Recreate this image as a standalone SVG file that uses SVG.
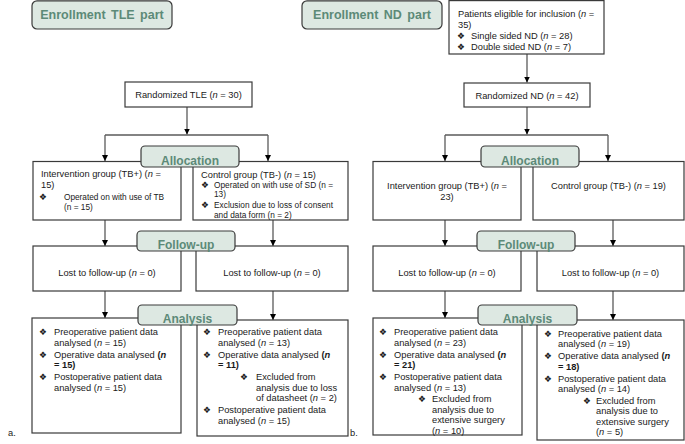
<svg xmlns="http://www.w3.org/2000/svg" width="685" height="444" viewBox="0 0 685 444">
<style>
.box{fill:#fff;stroke:#3a3a3a;stroke-width:1.2}
.lbl{fill:#dde8e2;stroke:#3a3a3a;stroke-width:1.2}
.lt{font-family:"Liberation Sans",Arial,sans-serif;font-weight:bold;fill:#5c8a78;text-anchor:middle}
.t{font-family:"Liberation Sans",Arial,sans-serif;font-size:9.3px;fill:#1a1a1a}
.s{font-size:8.3px}
.m{text-anchor:middle}
.bu{font-family:"DejaVu Sans",sans-serif;font-size:8.8px;fill:#1a1a1a}
.conn line{stroke:#5a5a5a;stroke-width:1.3}
.ar{marker-end:url(#ah)}
</style>
<defs>
<marker id="ah" markerWidth="6" markerHeight="6" viewBox="0 0 6 6" refX="6" refY="3" orient="auto" markerUnits="userSpaceOnUse">
<path d="M0,0 L6,3 L0,6z" fill="#000"/>
</marker>
</defs>
<rect width="685" height="444" fill="#fff"/>

<g id="connectors" class="conn">
<line class="ar" x1="187" y1="107" x2="187" y2="134.5"/>
<line x1="105" y1="135" x2="268" y2="135"/>
<line class="ar" x1="105" y1="135" x2="105" y2="161"/>
<line class="ar" x1="268" y1="135" x2="268" y2="161"/>
<line class="ar" x1="105" y1="220" x2="105" y2="246"/>
<line class="ar" x1="273" y1="220" x2="273" y2="246"/>
<line class="ar" x1="105" y1="291" x2="105" y2="318"/>
<line class="ar" x1="273" y1="291" x2="273" y2="320"/>

<line class="ar" x1="527" y1="54" x2="527" y2="82.5"/>
<line class="ar" x1="527" y1="107" x2="527" y2="134.5"/>
<line x1="445" y1="135" x2="608" y2="135"/>
<line class="ar" x1="445" y1="135" x2="445" y2="161"/>
<line class="ar" x1="608" y1="135" x2="608" y2="161"/>
<line class="ar" x1="445" y1="220" x2="445" y2="246"/>
<line class="ar" x1="613" y1="220" x2="613" y2="246"/>
<line class="ar" x1="445" y1="291" x2="445" y2="318"/>
<line class="ar" x1="613" y1="291" x2="613" y2="320"/>
</g>

<!-- TLE part -->
<g id="enroll-tle">
<rect class="lbl" x="32" y="0.8" width="140" height="28.2" rx="5"/>
<text class="lt" x="102" y="19" font-size="12.5" word-spacing="2">Enrollment TLE part</text>
</g>
<g id="rand-tle">
<rect class="box" x="125" y="82" width="127" height="25"/>
<text class="t m" x="188.5" y="98">Randomized TLE  (<tspan font-style="italic">n</tspan> = 30)</text>
</g>
<g id="int-tle">
<rect class="box" x="33" y="161.5" width="148" height="58.5"/>
<text class="t" x="41" y="176.5">Intervention group (TB+) (<tspan font-style="italic">n</tspan> =</text>
<text class="t" x="41" y="187.5">15)</text>
<text class="bu" x="39" y="200">❖</text>
<text class="t s" x="64" y="200" textLength="100" lengthAdjust="spacing">Operated on with use of TB</text>
<text class="t s" x="64" y="209.5">(n = 15)</text>
</g>
<g id="ctl-tle">
<rect class="box" x="193" y="161.5" width="155" height="58.5"/>
<text class="t" x="201" y="178">Control group (TB-) (<tspan font-style="italic">n</tspan> = 15)</text>
<text class="bu" x="201" y="188">❖</text>
<text class="t s" x="214" y="188" textLength="119" lengthAdjust="spacing">Operated on with use of SD (n =</text>
<text class="t s" x="214" y="197">13)</text>
<text class="bu" x="201" y="208">❖</text>
<text class="t s" x="214" y="208" textLength="119" lengthAdjust="spacing">Exclusion due to loss of consent</text>
<text class="t s" x="214" y="218">and data form (n = 2)</text>
</g>
<g id="alloc-tle">
<rect class="lbl" x="141" y="146" width="98" height="21" rx="4"/>
<text class="lt" x="190" y="164.5" font-size="12">Allocation</text>
</g>
<g id="lost-tle-1">
<rect class="box" x="33" y="246" width="148" height="45"/>
<text class="t m" x="107" y="275.5">Lost to follow-up (<tspan font-style="italic">n</tspan> = 0)</text>
</g>
<g id="lost-tle-2">
<rect class="box" x="196" y="246" width="152" height="45"/>
<text class="t m" x="272" y="275.5">Lost to follow-up (<tspan font-style="italic">n</tspan> = 0)</text>
</g>
<g id="follow-tle">
<rect class="lbl" x="137" y="231" width="98" height="20" rx="4"/>
<text class="lt" x="186" y="248.5" font-size="12">Follow-up</text>
</g>
<g id="ana-tle-1">
<rect class="box" x="32" y="318" width="149" height="115"/>
<text class="bu" x="39" y="335">❖</text>
<text class="t" x="54" y="335">Preoperative patient data</text>
<text class="t" x="54" y="345.5">analysed (<tspan font-style="italic">n</tspan> = 15)</text>
<text class="bu" x="39" y="357.5">❖</text>
<text class="t" x="54" y="357.5">Operative data analysed <tspan font-weight="bold">(<tspan font-style="italic">n</tspan></tspan></text>
<text class="t" x="54" y="368" font-weight="bold">= 15)</text>
<text class="bu" x="39" y="380">❖</text>
<text class="t" x="54" y="380">Postoperative patient data</text>
<text class="t" x="54" y="390.5">analysed (<tspan font-style="italic">n</tspan> = 15)</text>
</g>
<g id="ana-tle-2">
<rect class="box" x="197" y="320" width="151" height="116"/>
<text class="bu" x="203" y="335">❖</text>
<text class="t" x="218" y="335">Preoperative patient data</text>
<text class="t" x="218" y="345.5">analysed (<tspan font-style="italic">n</tspan> = 13)</text>
<text class="bu" x="203" y="357.5">❖</text>
<text class="t" x="218" y="357.5">Operative data analysed <tspan font-weight="bold">(<tspan font-style="italic">n</tspan></tspan></text>
<text class="t" x="218" y="368" font-weight="bold">= 11)</text>
<text class="bu" x="240" y="380">❖</text>
<text class="t" x="256" y="380">Excluded from</text>
<text class="t" x="256" y="390.5">analysis due to loss</text>
<text class="t" x="256" y="401">of datasheet (<tspan font-style="italic">n</tspan> = 2)</text>
<text class="bu" x="203" y="413">❖</text>
<text class="t" x="218" y="413">Postoperative patient data</text>
<text class="t" x="218" y="423.5">analysed (<tspan font-style="italic">n</tspan> = 15)</text>
</g>
<g id="analysis-tle">
<rect class="lbl" x="138" y="305" width="99" height="20" rx="4"/>
<text class="lt" x="187.5" y="323" font-size="12">Analysis</text>
</g>
<text class="t" x="8" y="436" font-size="11" fill="#333">a.</text>

<!-- ND part -->
<g id="enroll-nd">
<rect class="lbl" x="302" y="0.8" width="140" height="28.2" rx="5"/>
<text class="lt" x="372" y="19" font-size="12.5" word-spacing="2">Enrollment ND part</text>
</g>
<g id="eligible-nd">
<rect class="box" x="449" y="0.6" width="155" height="53.4"/>
<text class="t" x="458" y="17">Patients eligible for inclusion (<tspan font-style="italic">n</tspan> =</text>
<text class="t" x="458" y="28">35)</text>
<text class="bu" x="457" y="38.5">❖</text>
<text class="t" x="471" y="38.5">Single sided ND (<tspan font-style="italic">n</tspan> = 28)</text>
<text class="bu" x="457" y="50">❖</text>
<text class="t" x="471" y="50">Double sided ND (<tspan font-style="italic">n</tspan> = 7)</text>
</g>
<g id="rand-nd">
<rect class="box" x="464" y="83" width="126" height="24"/>
<text class="t m" x="527" y="98.5">Randomized ND (<tspan font-style="italic">n</tspan> = 42)</text>
</g>
<g id="int-nd">
<rect class="box" x="373" y="161.5" width="148" height="58.5"/>
<text class="t m" x="447" y="189">Intervention group (TB+) (<tspan font-style="italic">n</tspan> =</text>
<text class="t m" x="447" y="199.5">23)</text>
</g>
<g id="ctl-nd">
<rect class="box" x="533" y="161.5" width="151" height="58.5"/>
<text class="t m" x="608.5" y="189">Control group (TB-) (<tspan font-style="italic">n</tspan> = 19)</text>
</g>
<g id="alloc-nd">
<rect class="lbl" x="481" y="146" width="98" height="21" rx="4"/>
<text class="lt" x="530" y="164.5" font-size="12">Allocation</text>
</g>
<g id="lost-nd-1">
<rect class="box" x="373" y="246" width="148" height="45"/>
<text class="t m" x="447" y="275.5">Lost to follow-up (<tspan font-style="italic">n</tspan> = 0)</text>
</g>
<g id="lost-nd-2">
<rect class="box" x="537" y="246" width="147" height="45"/>
<text class="t m" x="610.5" y="275.5">Lost to follow-up (<tspan font-style="italic">n</tspan> = 0)</text>
</g>
<g id="follow-nd">
<rect class="lbl" x="477" y="231" width="98" height="20" rx="4"/>
<text class="lt" x="526" y="248.5" font-size="12">Follow-up</text>
</g>
<g id="ana-nd-1">
<rect class="box" x="373" y="318" width="149" height="117"/>
<text class="bu" x="379" y="335">❖</text>
<text class="t" x="394" y="335">Preoperative patient data</text>
<text class="t" x="394" y="345.5">analysed (<tspan font-style="italic">n</tspan> = 23)</text>
<text class="bu" x="379" y="357.5">❖</text>
<text class="t" x="394" y="357.5">Operative data analysed <tspan font-weight="bold">(<tspan font-style="italic">n</tspan></tspan></text>
<text class="t" x="394" y="368" font-weight="bold">= 21)</text>
<text class="bu" x="379" y="380">❖</text>
<text class="t" x="394" y="380">Postoperative patient data</text>
<text class="t" x="394" y="390.5">analysed (<tspan font-style="italic">n</tspan> = 13)</text>
<text class="bu" x="418" y="402">❖</text>
<text class="t" x="432" y="402">Excluded from</text>
<text class="t" x="432" y="412.5">analysis due to</text>
<text class="t" x="432" y="423">extensive surgery</text>
<text class="t" x="432" y="433.5">(<tspan font-style="italic">n</tspan> = 10)</text>
</g>
<g id="ana-nd-2">
<rect class="box" x="537" y="320" width="147" height="120"/>
<text class="bu" x="544" y="336.5">❖</text>
<text class="t" x="558" y="336.5">Preoperative patient data</text>
<text class="t" x="558" y="347">analysed (<tspan font-style="italic">n</tspan> = 19)</text>
<text class="bu" x="544" y="359">❖</text>
<text class="t" x="558" y="359">Operative data analysed <tspan font-weight="bold">(<tspan font-style="italic">n</tspan></tspan></text>
<text class="t" x="558" y="369.5" font-weight="bold">= 18)</text>
<text class="bu" x="544" y="381.5">❖</text>
<text class="t" x="558" y="381.5">Postoperative patient data</text>
<text class="t" x="558" y="392">analysed (<tspan font-style="italic">n</tspan> = 14)</text>
<text class="bu" x="583" y="403.5">❖</text>
<text class="t" x="596" y="403.5">Excluded from</text>
<text class="t" x="596" y="414">analysis due to</text>
<text class="t" x="596" y="424.5">extensive surgery</text>
<text class="t" x="596" y="435">(<tspan font-style="italic">n</tspan> = 5)</text>
</g>
<g id="analysis-nd">
<rect class="lbl" x="478" y="305" width="99" height="20" rx="4"/>
<text class="lt" x="527.5" y="323" font-size="12">Analysis</text>
</g>
<text class="t" x="350" y="436" font-size="11" fill="#333">b.</text>
</svg>
